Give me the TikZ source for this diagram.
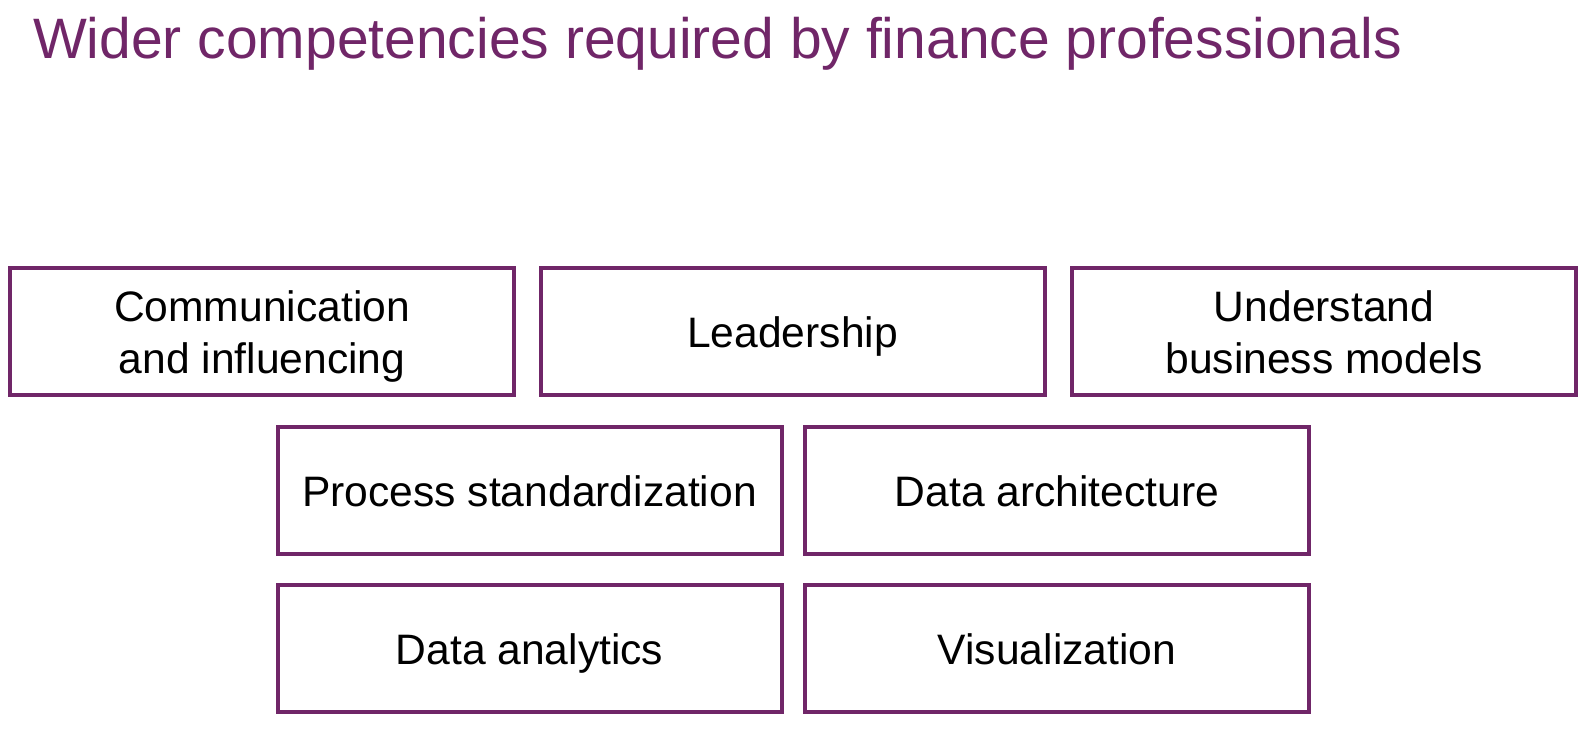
\documentclass[tikz,border=0pt]{standalone}
\usepackage{fontspec}
\setmainfont{Liberation Sans}
\usepackage{tikz}
\definecolor{finpurple}{RGB}{112,38,104}

\begin{document}
\begin{tikzpicture}[x=0.5pt, y=-0.5pt,
    skill/.style={draw=finpurple, line width=2pt, minimum width=252pt, minimum height=63.5pt,
        inner sep=0pt, align=center, font=\fontsize{21.3}{25.6}\selectfont},
    oneline/.style={skill, text height=16.5pt, text depth=0pt},
    twoline/.style={skill, text height=42pt, text depth=0pt}]
    \useasboundingbox (0,0) rectangle (1590,745);
    \node[anchor=base west, text=finpurple, font=\fontsize{28.5}{34}\selectfont] at (26,58) (title) {Wider competencies required by finance professionals};
    % first row
    \node[twoline] at (262,331) (comm) {Communication\\and influencing};
    \node[oneline] at (792.5,331) (lead) {Leadership};
    \node[twoline] at (1324,331) (business) {Understand\\business models};
    % second and third row
    \node[oneline] at (529.5,490) (process) {Process standardization};
    \node[oneline] at (1057,490) (architecture) {Data architecture};
    \node[oneline] at (529.5,648) (analytics) {Data analytics};
    \node[oneline] at (1057,648) (visual) {Visualization};
\end{tikzpicture}
\end{document}
